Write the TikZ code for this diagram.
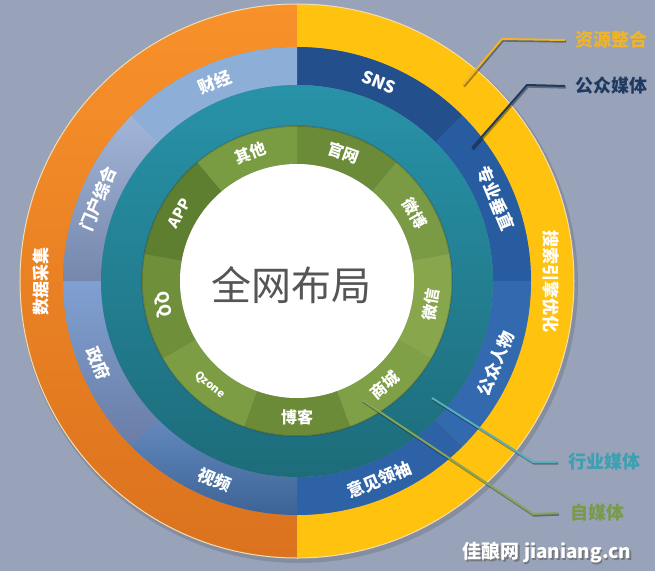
\documentclass[tikz,border=0pt]{standalone}
\usepackage{fontspec}
\newfontfamily\cjk{Noto Sans CJK SC}
\definecolor{bg}{HTML}{98A2B8}
\definecolor{orT}{HTML}{F8912A}
\definecolor{orB}{HTML}{DB721E}
\definecolor{yel}{HTML}{FFC20E}
\definecolor{rimc}{HTML}{F3DDB2}
\definecolor{tealT}{HTML}{2892A8}
\definecolor{tealB}{HTML}{1D6C7A}
\definecolor{bSNS}{HTML}{23508C}
\definecolor{bZY}{HTML}{285CA0}
\definecolor{bGZ}{HTML}{3269AF}
\definecolor{bYJ}{HTML}{2E62A6}
\definecolor{bSP}{HTML}{4774B1}
\definecolor{bZFt}{HTML}{80A0D2}
\definecolor{bZFb}{HTML}{6A7DA6}
\definecolor{bMHt}{HTML}{A2B5D8}
\definecolor{bMHb}{HTML}{7587AC}
\definecolor{bCJ}{HTML}{8DAED6}
\definecolor{gA}{HTML}{6B8B38}
\definecolor{gB}{HTML}{7A9A43}
\definecolor{gC}{HTML}{88A74D}
\definecolor{gD}{HTML}{7FA046}
\definecolor{gE}{HTML}{6C8B38}
\definecolor{gF}{HTML}{7C9D43}
\definecolor{gG}{HTML}{6F8F3A}
\definecolor{gH}{HTML}{5F7F30}
\definecolor{gI}{HTML}{799B41}
\definecolor{titlec}{HTML}{555555}
\definecolor{cGold}{HTML}{F0B429}
\definecolor{cNavy}{HTML}{1F3A60}
\definecolor{cTeal}{HTML}{3AA0B2}
\definecolor{cGreen}{HTML}{7A9A4A}
\newcommand\annseg[5]{\path[#5] (#1:#3pt) arc[start angle=#1, end angle=#2, radius=#3pt] -- (#2:#4pt) arc[start angle=#2, end angle=#1, radius=#4pt] -- cycle;}
\tikzset{
  ringlbl/.style={text=white, font=\cjk\bfseries\fontsize{17}{17}\selectfont, inner sep=0pt},
  greenlbl/.style={text=white, font=\cjk\bfseries\fontsize{16}{16}\selectfont, inner sep=0pt},
  calltxt/.style={font=\cjk\bfseries\fontsize{18}{18}\selectfont, inner sep=0pt, anchor=west},
  callline/.style={line width=2pt, line join=round},
  callshadow/.style={line width=2.4pt, line join=round, black, opacity=0.35}
}
\begin{document}
\begin{tikzpicture}[x=1pt,y=1pt]
\fill[bg] (-297,-290) rectangle (358,281);
\useasboundingbox (-297,-290) rectangle (358,281);
% soft shadow of disk
\fill[black, opacity=0.12] (2,-3) circle (279pt);
% outer ring
\annseg{90}{270}{234}{277}{top color=orT, bottom color=orB}
\annseg{-90}{90}{234}{277}{fill=yel}
\draw[rimc, line width=1pt] (0,0) circle (277pt);
% blue ring
\annseg{45}{90}{196}{234}{fill=bSNS}
\annseg{0}{45}{196}{234}{fill=bZY}
\annseg{-45}{0}{196}{234}{fill=bGZ}
\annseg{-90}{-45}{196}{234}{fill=bYJ}
\annseg{-135}{-90}{196}{234}{top color=bSP!85!white, bottom color=bSP!85!black}
\annseg{-180}{-135}{196}{234}{top color=bZFt, bottom color=bZFb}
\annseg{135}{180}{196}{234}{top color=bMHt, bottom color=bMHb}
\annseg{90}{135}{196}{234}{fill=bCJ}
% teal ring
\annseg{0}{360}{155}{196}{shading angle=30, top color=tealT, bottom color=tealB}
% green ring
\annseg{50}{90}{117}{155}{fill=gA}
\annseg{10}{50}{117}{155}{fill=gB}
\annseg{-30}{10}{117}{155}{fill=gC}
\annseg{-70}{-30}{117}{155}{fill=gD}
\annseg{-110}{-70}{117}{155}{fill=gE}
\annseg{-150}{-110}{117}{155}{fill=gF}
\annseg{170}{210}{117}{155}{fill=gG}
\annseg{130}{170}{117}{155}{fill=gH}
\annseg{90}{130}{117}{155}{fill=gI}
\draw[black, opacity=0.15, line width=1.5pt] (0,0) circle (155pt);
% centre
\fill[white] (0,0) circle (117pt);
\node[text=titlec, font=\cjk\fontsize{40}{40}\selectfont, inner sep=0pt] (title) at (-5,-4) {全网布局};
% outer ring labels
\node[ringlbl, rotate=90] (sjcj) at (180:256pt) {数据采集};
\node[ringlbl, rotate=-90] (ssyq) at (0:254pt) {搜索引擎优化};
% blue ring labels
\node[ringlbl, rotate=22.5] (cj) at (112.5:215pt) {财经};
\node[ringlbl, rotate=67.5] (mhzh) at (157.5:215pt) {门户综合};
\node[ringlbl, rotate=-67.5] (zf) at (202.5:215pt) {政府};
\node[ringlbl, rotate=-22.5] (sp) at (247.5:215pt) {视频};
\node[ringlbl, rotate=22.5] (yjls) at (292.5:215pt) {意见领袖};
\node[ringlbl, rotate=67.5] (gzrw) at (337.5:215pt) {公众人物};
\node[ringlbl, rotate=-67.5] (zycz) at (22.5:215pt) {专业垂直};
\node[ringlbl, rotate=-22.5] (sns) at (67.5:215pt) {SNS};
% green ring labels
\node[greenlbl, rotate=-20] (gw) at (70:136pt) {官网};
\node[greenlbl, rotate=-60] (wb) at (30:136pt) {微博};
\node[greenlbl, rotate=80] (wx) at (-10:136pt) {微信};
\node[greenlbl, rotate=40] (sc) at (-50:136pt) {商城};
\node[greenlbl, rotate=0] (bk) at (-90:136pt) {博客};
\node[greenlbl, rotate=-40, font=\cjk\bfseries\fontsize{11}{11}\selectfont] (qz) at (-130:136pt) {Qzone};
\node[greenlbl, rotate=-80] (qq) at (-170:136pt) {QQ};
\node[greenlbl, rotate=60, font=\cjk\bfseries\fontsize{15}{15}\selectfont] (app) at (150:136pt) {APP};
\node[greenlbl, rotate=20] (qt) at (110:136pt) {其他};
% callouts
\coordinate (s1) at (166,196); \coordinate (k1) at (205,242);
\coordinate (s2) at (175,133); \coordinate (k2) at (230,196);
\coordinate (s3) at (135,-117); \coordinate (k3) at (236,-181);
\coordinate (s4) at (65,-119); \coordinate (k4) at (236,-233);
\node[calltxt, text=cGold] (t1) at (278,241) {资源整合};
\node[calltxt, text=cNavy] (t2) at (278,195) {公众媒体};
\node[calltxt, text=cTeal] (t3) at (271,-181) {行业媒体};
\node[calltxt, text=cGreen] (t4) at (273,-232) {自媒体};
\draw[callshadow] ([shift={(1,-1.5)}]s1) -- ([shift={(1,-1.5)}]k1) -- ([shift={(-9,-1.5)}]t1.west);
\draw[callline, cGold] (s1) -- (k1) -- ([xshift=-10pt]t1.west);
\draw[callshadow] ([shift={(1,-1.5)}]s2) -- ([shift={(1,-1.5)}]k2) -- ([shift={(-9,-1.5)}]t2.west);
\draw[callline, cNavy] (s2) -- (k2) -- ([xshift=-10pt]t2.west);
\draw[callshadow] ([shift={(1,-1.5)}]s3) -- ([shift={(1,-1.5)}]k3) -- ([shift={(-10,-1.5)}]t3.west);
\draw[callline, cTeal!85!white] (s3) -- (k3) -- ([xshift=-11pt]t3.west);
\draw[callshadow] ([shift={(1,-1.5)}]s4) -- ([shift={(1,-1.5)}]k4) -- ([shift={(-11,-1.5)}]t4.west);
\draw[callline, cGreen!90!white] (s4) -- (k4) -- ([xshift=-12pt]t4.west);
% watermark
\node[font=\cjk\bfseries\fontsize{19}{19}\selectfont, text=black!60, opacity=0.7, inner sep=0pt] (wms) at (251.5,-273.5) {佳酿网 jianiang.cn};
\node[font=\cjk\bfseries\fontsize{19}{19}\selectfont, text=white, inner sep=0pt] (wm) at (250,-272) {佳酿网 jianiang.cn};
\end{tikzpicture}
\end{document}
